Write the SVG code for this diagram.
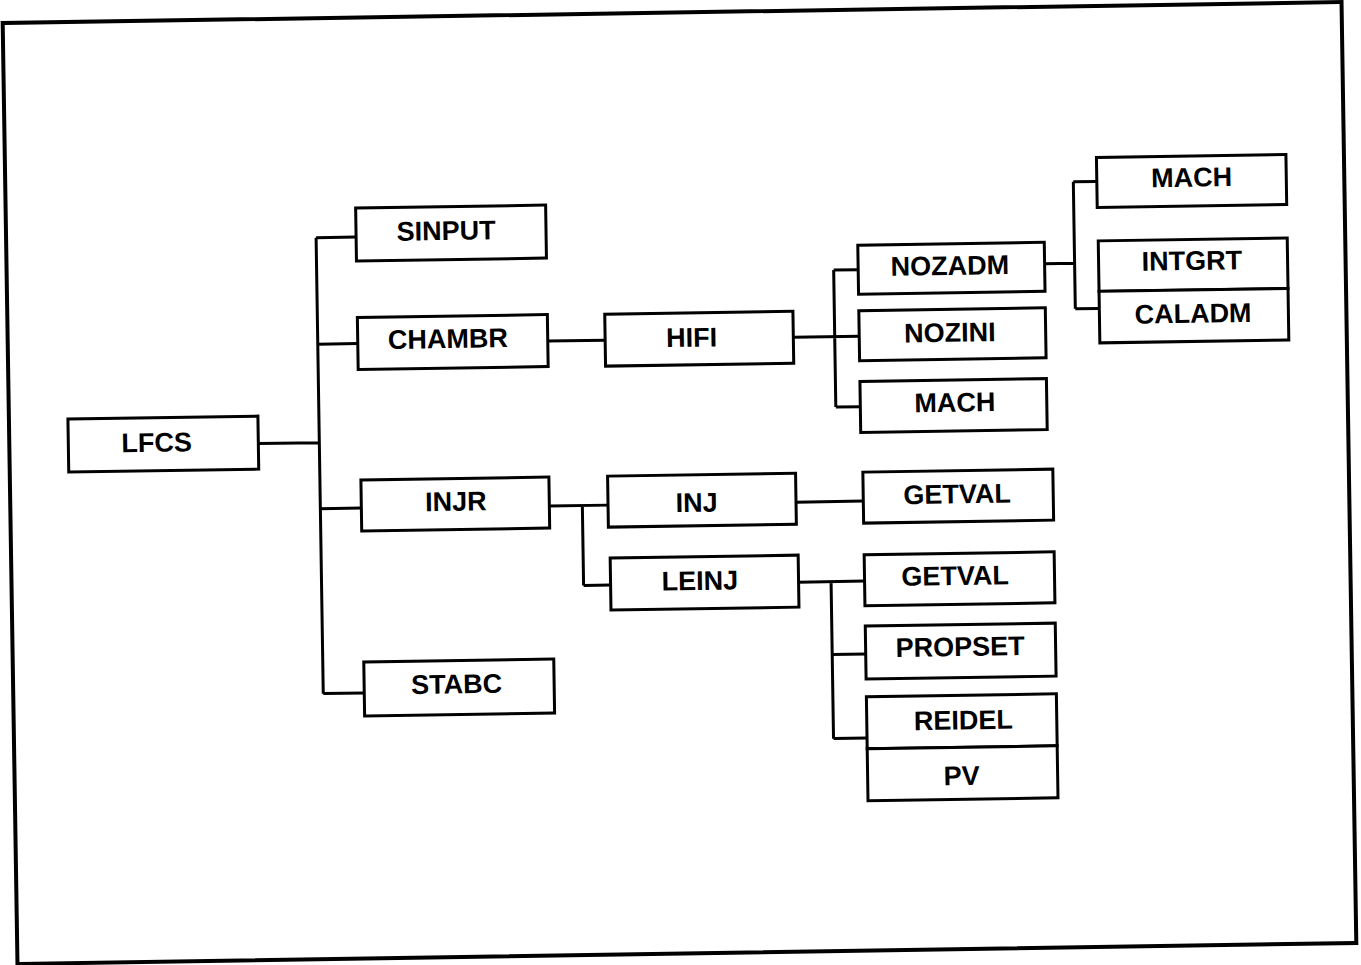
<svg xmlns="http://www.w3.org/2000/svg" width="1361" height="965" viewBox="0 0 1361 965">
<style>
.b{fill:#fff;stroke:#000;stroke-width:3}
.t{font-family:"Liberation Sans",Arial,sans-serif;font-weight:bold;font-size:27px;text-anchor:middle;fill:#000}
.c{fill:none;stroke:#000;stroke-width:3}
</style>
<rect width="1361" height="965" fill="#fff"/>
<g transform="rotate(-0.9 679.5 483)">
<rect x="10" y="12.5" width="1339" height="941" fill="none" stroke="#000" stroke-width="4"/>
<g id="connectors" class="c">
<path d="M259 437 H320 M320 232 V688 M320 232 H360 M320 338.5 H360 M320 503 H361 M320 688 H361"/>
<path d="M550 339 H607.4"/>
<path d="M795.6 339 H861.5 M837 272.5 V409.5 M837 272.5 H861.5 M837 409.5 H861.5"/>
<path d="M1048 269.5 H1078 M1078 188 V315 M1078 188 H1101.5 M1078 315 H1101.5"/>
<path d="M549 504 H607.7 M582 504 V584 M582 584 H609"/>
<path d="M795.8 504 H863 M797 584 H863 M829.5 584 V741 M829.5 657 H863 M829.5 741 H863"/>
</g>
<g id="LFCS"><rect class="b" x="69" y="409.5" width="190" height="53"/><text class="t" x="157.3" y="443.5">LFCS</text></g>
<g id="SINPUT"><rect class="b" x="360" y="203" width="190" height="53"/><text class="t" x="450" y="236.3">SINPUT</text></g>
<g id="CHAMBR"><rect class="b" x="360" y="312.5" width="190" height="52"/><text class="t" x="450.2" y="344.4">CHAMBR</text></g>
<g id="INJR"><rect class="b" x="361" y="475" width="188" height="51"/><text class="t" x="455.7" y="507.2">INJR</text></g>
<g id="STABC"><rect class="b" x="361" y="657" width="190" height="54"/><text class="t" x="453.5" y="689.8">STABC</text></g>
<g id="HIFI"><rect class="b" x="607.4" y="313" width="188.2" height="52"/><text class="t" x="693.8" y="346.9">HIFI</text></g>
<g id="INJ"><rect class="b" x="607.7" y="475" width="188" height="51"/><text class="t" x="696.4" y="512">INJ</text></g>
<g id="LEINJ"><rect class="b" x="609" y="557" width="188" height="52"/><text class="t" x="698.3" y="590.3">LEINJ</text></g>
<g id="NOZADM"><rect class="b" x="861.5" y="248" width="186.5" height="49"/><text class="t" x="953.3" y="279.2">NOZADM</text></g>
<g id="NOZINI"><rect class="b" x="861.5" y="313.5" width="186.5" height="50"/><text class="t" x="952.2" y="346">NOZINI</text></g>
<g id="MACH2"><rect class="b" x="861.5" y="384.4" width="186.5" height="51"/><text class="t" x="956.1" y="416">MACH</text></g>
<g id="MACH1"><rect class="b" x="1101.5" y="164" width="189.5" height="50"/><text class="t" x="1196.4" y="194.7">MACH</text></g>
<g id="INTGRT"><rect class="b" x="1102" y="247.5" width="189" height="50.5"/><text class="t" x="1195.2" y="278">INTGRT</text></g>
<g id="CALADM"><rect class="b" x="1102" y="298" width="189" height="51.5"/><text class="t" x="1195.6" y="330.8">CALADM</text></g>
<g id="GETVAL1"><rect class="b" x="863" y="475" width="190" height="51"/><text class="t" x="956.9" y="507.7">GETVAL</text></g>
<g id="GETVAL2"><rect class="b" x="863" y="557.7" width="190" height="51"/><text class="t" x="953.5" y="589.3">GETVAL</text></g>
<g id="PROPSET"><rect class="b" x="863" y="629" width="190" height="53"/><text class="t" x="957.4" y="660.4">PROPSET</text></g>
<g id="REIDEL"><rect class="b" x="863" y="699.7" width="190" height="52"/><text class="t" x="959.5" y="733.8">REIDEL</text></g>
<g id="PV"><rect class="b" x="863" y="751.7" width="190" height="52"/><text class="t" x="957.1" y="789.4">PV</text></g>
</g>
</svg>
